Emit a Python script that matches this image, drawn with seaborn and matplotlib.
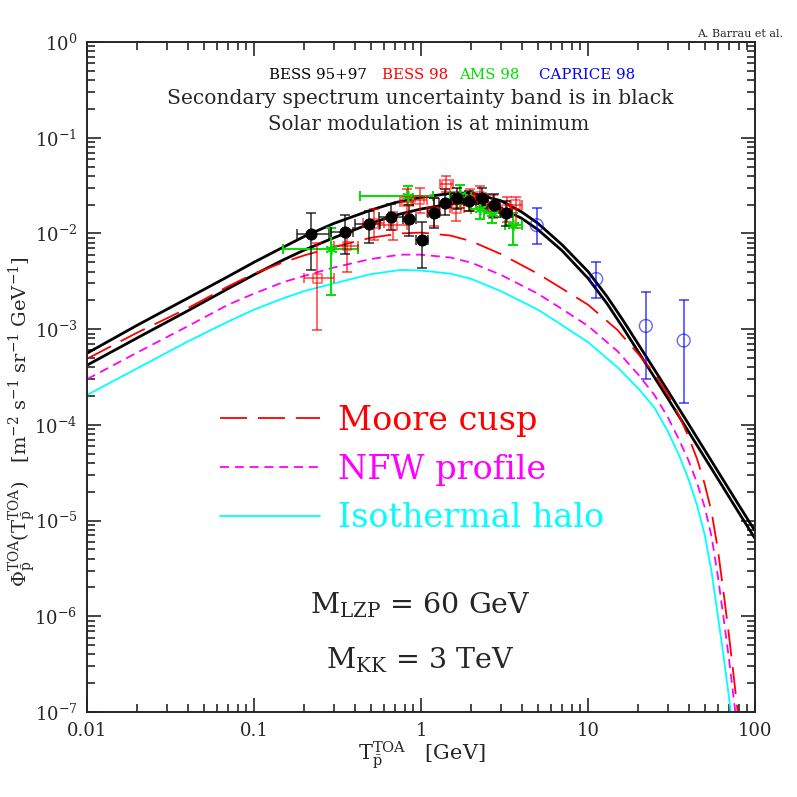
#!/usr/bin/env python3
# -*- coding: utf-8 -*-

"""
Antiproton flux at top of atmosphere: secondary band, LZP signals and data.
"""

import matplotlib
matplotlib.use("Agg")
import matplotlib.pyplot as plt
import matplotlib.ticker as mticker
import numpy as np
import seaborn as sns

# ---- curves (kinetic energy in GeV, flux) ----
T_SEC = [0.01, 0.02, 0.04, 0.07, 0.1, 0.15, 0.2, 0.3, 0.5, 0.7, 1, 1.5, 2,
         3, 4, 5, 7, 10, 13, 16, 20, 25, 30, 40, 60, 80, 100]
SEC_HIGH = [5.6e-4, 1.1e-3, 2.1e-3, 3.55e-3, 5.0e-3, 7.2e-3, 9.3e-3, 1.27e-2,
            1.75e-2, 2.1e-2, 2.38e-2, 2.62e-2, 2.65e-2, 2.2e-2, 1.68e-2, 1.28e-2,
            7.6e-3, 4.0e-3, 2.19e-3, 1.28e-3, 6.96e-4, 3.77e-4, 2.28e-4,
            1.02e-4, 3.26e-5, 1.45e-5, 7.8e-6]
SEC_LOW = [4.2e-4, 8.1e-4, 1.55e-3, 2.65e-3, 3.7e-3, 5.3e-3, 6.7e-3, 9.0e-3,
           1.27e-2, 1.55e-2, 1.8e-2, 2.03e-2, 2.1e-2, 1.85e-2, 1.44e-2, 1.1e-2,
           6.6e-3, 3.4e-3, 1.85e-3, 1.07e-3, 5.8e-4, 3.14e-4, 1.9e-4,
           8.5e-5, 2.72e-5, 1.21e-5, 6.5e-6]

T_SIG = [0.01, 0.02, 0.04, 0.07, 0.1, 0.15, 0.2, 0.3, 0.5, 0.75, 1, 1.5, 2,
         3, 5, 7, 10, 15, 20, 25, 30, 35, 40, 45, 50, 55, 60, 65, 70, 75, 80]
MOORE = [4.9e-4, 9.2e-4, 1.65e-3, 2.8e-3, 3.8e-3, 5.0e-3, 5.9e-3, 7.2e-3,
         9.0e-3, 1.0e-2, 1.02e-2, 9.5e-3, 8.3e-3, 6.1e-3, 3.8e-3, 2.65e-3,
         1.8e-3, 9.8e-4, 5.5e-4, 3.44e-4, 2.1e-4, 1.26e-4, 7.5e-5, 4.4e-5,
         2.4e-5, 1.22e-5, 4.9e-6, 1.71e-6, 6.1e-7, 2.16e-7, 7.9e-8]
NFW = [3.0e-4, 5.7e-4, 1.07e-3, 1.8e-3, 2.35e-3, 3.1e-3, 3.6e-3, 4.4e-3,
       5.4e-3, 6.0e-3, 6.0e-3, 5.6e-3, 4.95e-3, 3.7e-3, 2.35e-3, 1.62e-3,
       1.08e-3, 5.9e-4, 3.35e-4, 2.05e-4, 1.21e-4, 7.05e-5, 4.25e-5, 2.47e-5,
       1.38e-5, 6.76e-6, 2.58e-6, 9.3e-7, 3.47e-7, 1.27e-7, 4.8e-8]
ISO = [2.05e-4, 3.9e-4, 7.4e-4, 1.2e-3, 1.6e-3, 2.1e-3, 2.5e-3, 3.0e-3,
       3.75e-3, 4.15e-3, 4.1e-3, 3.8e-3, 3.35e-3, 2.5e-3, 1.6e-3, 1.1e-3,
       7.3e-4, 4.0e-4, 2.4e-4, 1.51e-4, 8.6e-5, 4.86e-5, 2.7e-5, 1.44e-5,
       7.1e-6, 2.88e-6, 1.0e-6, 3.7e-7, 1.38e-7, 5.0e-8, 2e-8]

# ---- data points ----
BESS9597_T = [0.22, 0.35, 0.49, 0.66, 0.85, 1.01, 1.19, 1.39, 1.65, 1.95, 2.31, 2.73, 3.23]
BESS9597_F = [9.9e-3, 1.03e-2, 1.25e-2, 1.5e-2, 1.41e-2, 8.5e-3, 1.62e-2, 2.09e-2,
              2.36e-2, 2.2e-2, 2.36e-2, 1.98e-2, 1.64e-2]
BESS9597_FLO = [4.1e-3, 6.1e-3, 8.0e-3, 1.09e-2, 9.3e-3, 4.4e-3, 1.14e-2, 1.56e-2,
                1.8e-2, 1.7e-2, 1.85e-2, 1.5e-2, 1.2e-2]
BESS9597_FHI = [1.64e-2, 1.56e-2, 1.73e-2, 2.01e-2, 1.97e-2, 1.31e-2, 2.33e-2, 2.89e-2,
                3.0e-2, 2.8e-2, 3.0e-2, 2.6e-2, 2.2e-2]
BESS9597_TLO = [0.18, 0.29, 0.40, 0.56, 0.78, 0.93, 1.1, 1.28, 1.52, 1.8, 2.13, 2.52, 2.98]
BESS9597_THI = [0.28, 0.39, 0.57, 0.78, 0.93, 1.1, 1.28, 1.52, 1.8, 2.13, 2.52, 2.98, 3.5]

BESS98_T = [0.24, 0.36, 0.52, 0.68, 0.82, 0.98, 1.19, 1.42, 1.63, 1.97, 2.25, 2.71, 3.26, 3.7]
BESS98_F = [3.4e-3, 7.4e-3, 1.28e-2, 1.22e-2, 2.14e-2, 2.23e-2, 1.69e-2, 3.25e-2,
            1.83e-2, 2.23e-2, 2.42e-2, 1.9e-2, 1.8e-2, 2.0e-2]
BESS98_FLO = [9.8e-4, 4.0e-3, 8.5e-3, 8.6e-3, 1.6e-2, 1.63e-2, 1.2e-2, 2.7e-2,
              1.36e-2, 1.7e-2, 1.9e-2, 1.45e-2, 1.32e-2, 1.13e-2]
BESS98_FHI = [8.0e-3, 1.09e-2, 1.8e-2, 1.69e-2, 2.9e-2, 2.97e-2, 2.33e-2, 3.98e-2,
              2.7e-2, 2.9e-2, 3.1e-2, 2.5e-2, 2.43e-2, 2.43e-2]
BESS98_TLO = [0.2, 0.3, 0.45, 0.56, 0.75, 0.9, 1.08, 1.3, 1.5, 1.8, 2.05, 2.45, 2.95, 3.4]
BESS98_THI = [0.3, 0.42, 0.6, 0.82, 0.9, 1.08, 1.3, 1.55, 1.8, 2.15, 2.45, 2.95, 3.5, 4.0]

AMS98_T = [0.29, 0.84, 1.71, 2.25, 2.65, 3.57]
AMS98_F = [6.9e-3, 2.48e-2, 2.5e-2, 1.8e-2, 1.62e-2, 1.22e-2]
AMS98_FLO = [2.3e-3, 1.98e-2, 1.84e-2, 1.4e-2, 1.3e-2, 7.6e-3]
AMS98_FHI = [1.13e-2, 3.13e-2, 3.2e-2, 2.3e-2, 2.0e-2, 1.62e-2]
AMS98_TLO = [0.15, 0.43, 1.5, 2.0, 2.4, 3.2]
AMS98_THI = [0.42, 1.18, 2.0, 2.5, 3.0, 4.0]

CAPRICE98_T = [4.93, 11.2, 22.2, 37.4]
CAPRICE98_F = [1.22e-2, 3.34e-3, 1.08e-3, 7.6e-4]
CAPRICE98_FLO = [7.7e-3, 2.1e-3, 3.0e-4, 1.7e-4]
CAPRICE98_FHI = [1.83e-2, 5.0e-3, 2.46e-3, 2.0e-3]

XTICKS = [0.01, 0.1, 1, 10, 100]
XTICK_LABELS = ['0.01', '0.1', '1', '10', '100']
YTICKS = [1e-7, 1e-6, 1e-5, 1e-4, 1e-3, 1e-2, 1e-1, 1e0]
YTICK_LABELS = [r'$10^{-7}$', r'$10^{-6}$', r'$10^{-5}$', r'$10^{-4}$',
                r'$10^{-3}$', r'$10^{-2}$', r'$10^{-1}$', r'$10^{0}$']


def errbars(ax, t, f, flo, fhi, color, tlo=None, thi=None, alpha=1.0):
    """
    Asymmetric error bars, drawn without markers.
    """
    t, f = np.array(t), np.array(f)
    yerr = [f - np.array(flo), np.array(fhi) - f]
    xerr = None
    if tlo is not None:
        xerr = [t - np.array(tlo), np.array(thi) - t]
    ax.errorbar(t, f, yerr=yerr, xerr=xerr, fmt='none', ecolor=color,
                elinewidth=1.4, capsize=3.5, capthick=1.4, alpha=alpha, zorder=3)


sns.set_style('ticks')
plt.rcParams['font.family'] = ['DejaVu Serif']
plt.rcParams['mathtext.fontset'] = 'dejavuserif'

fig = plt.figure(figsize=(7.97, 7.97), dpi=100)
ax = fig.add_axes([87 / 797, 1 - 712 / 797, 668 / 797, 670 / 797])
ax.set_xscale('log')
ax.set_yscale('log')

# secondary band
sns.lineplot(x=T_SEC, y=SEC_HIGH, ax=ax, color='black', lw=2, sort=False)
sns.lineplot(x=T_SEC, y=SEC_LOW, ax=ax, color='black', lw=2, sort=False)

# LZP signals
sns.lineplot(x=T_SIG, y=MOORE, ax=ax, color='red', lw=1.3, sort=False,
             linestyle=(0, (15, 6)), label='Moore cusp')
sns.lineplot(x=T_SIG, y=NFW, ax=ax, color='magenta', lw=1.3, sort=False,
             linestyle=(0, (5, 3.2)), label='NFW profile')
sns.lineplot(x=T_SIG, y=ISO, ax=ax, color='cyan', lw=1.3, sort=False,
             label='Isothermal halo')

# data
errbars(ax, AMS98_T, AMS98_F, AMS98_FLO, AMS98_FHI, '#00e000', AMS98_TLO, AMS98_THI)
errbars(ax, BESS98_T, BESS98_F, BESS98_FLO, BESS98_FHI, 'red', BESS98_TLO, BESS98_THI, alpha=0.6)
errbars(ax, BESS9597_T, BESS9597_F, BESS9597_FLO, BESS9597_FHI, 'black',
        BESS9597_TLO, BESS9597_THI, alpha=0.65)
errbars(ax, CAPRICE98_T, CAPRICE98_F, CAPRICE98_FLO, CAPRICE98_FHI, 'blue', alpha=0.6)

sns.scatterplot(x=AMS98_T, y=AMS98_F, ax=ax, marker=(6, 2, 0), s=60,
                color='#00e000', linewidth=1.2, zorder=4)
sns.scatterplot(x=BESS98_T, y=BESS98_F, ax=ax, marker='s', s=40,
                facecolor='none', edgecolor='red', linewidth=1.2, alpha=0.6, zorder=4)
sns.scatterplot(x=BESS9597_T, y=BESS9597_F, ax=ax, marker='o', s=65,
                color='black', edgecolor='black', zorder=5)
sns.scatterplot(x=CAPRICE98_T, y=CAPRICE98_F, ax=ax, marker='o', s=85,
                facecolor='none', edgecolor='blue', linewidth=1.0, alpha=0.6, zorder=4)

ax.set_xlim(0.01, 100)
ax.set_ylim(1e-7, 1)
ax.xaxis.set_major_locator(mticker.FixedLocator(XTICKS))
ax.xaxis.set_major_formatter(mticker.FixedFormatter(XTICK_LABELS))
ax.yaxis.set_major_locator(mticker.FixedLocator(YTICKS))
ax.yaxis.set_major_formatter(mticker.FixedFormatter(YTICK_LABELS))
ax.xaxis.set_minor_locator(mticker.LogLocator(base=10, subs=range(2, 10), numticks=20))
ax.yaxis.set_minor_locator(mticker.LogLocator(base=10, subs=range(2, 10), numticks=20))
ax.xaxis.set_minor_formatter(mticker.NullFormatter())
ax.yaxis.set_minor_formatter(mticker.NullFormatter())
ax.tick_params(which='both', direction='in', top=True, right=True, width=1.2,
               labelsize=13, pad=7)
ax.tick_params(which='major', length=10)
ax.tick_params(which='minor', length=5.5)
for s in ax.spines.values():
    s.set_linewidth(1.4)
ax.set_xlabel('')
ax.set_ylabel('')

ax.legend(loc='upper left', bbox_to_anchor=(0.199, 0.458), frameon=False,
          fontsize=24, handlelength=3.0, handletextpad=0.54, labelspacing=0.5,
          borderpad=0, borderaxespad=0, labelcolor='linecolor')

# text
fig.text(783 / 797, 1 - 34 / 797, 'A. Barrau et al.', ha='right', va='center', fontsize=8)
fig.text(269 / 797, 1 - 75 / 797, 'BESS 95+97', color='black', ha='left', va='center', fontsize=10.8)
fig.text(382 / 797, 1 - 75 / 797, 'BESS 98', color='red', ha='left', va='center', fontsize=10.8)
fig.text(459 / 797, 1 - 75 / 797, 'AMS 98', color='#00e000', ha='left', va='center', fontsize=10.8)
fig.text(539 / 797, 1 - 75 / 797, 'CAPRICE 98', color='blue', ha='left', va='center', fontsize=10.8)
fig.text(420 / 797, 1 - 99 / 797, 'Secondary spectrum uncertainty band is in black',
         ha='center', va='center', fontsize=14.6)
fig.text(429 / 797, 1 - 125 / 797, 'Solar modulation is at minimum',
         ha='center', va='center', fontsize=14.2)
fig.text(420 / 797, 1 - 605 / 797, r'M$_{\rm LZP}$ = 60 GeV', ha='center', va='center', fontsize=20.5)
fig.text(420 / 797, 1 - 660 / 797, r'M$_{\rm KK}$ = 3 TeV', ha='center', va='center', fontsize=20.5)
fig.text(422 / 797, 1 - 755 / 797, r'T$_{\bar{\rm p}}^{\rm TOA}$   [GeV]',
         ha='center', va='center', fontsize=15)
fig.text(22 / 797, 1 - 422 / 797,
         r'$\Phi_{\bar{\rm p}}^{\rm TOA}$(T$_{\bar{\rm p}}^{\rm TOA}$)   '
         r'[m$^{-2}$ s$^{-1}$ sr$^{-1}$ GeV$^{-1}$]',
         rotation=90, ha='center', va='center', fontsize=14)

fig.savefig('out.png', dpi=100)
